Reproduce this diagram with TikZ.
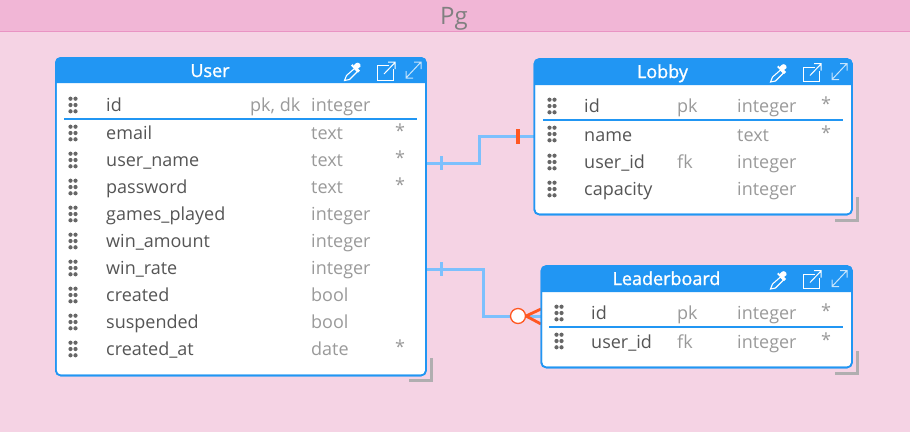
\documentclass[tikz,border=0pt]{standalone}
\usepackage{fontspec}
\setmainfont{Open Sans}
\newfontfamily\hdfont[FakeBold=1.2]{Open Sans}
\definecolor{bgpink}{HTML}{F5D3E4}
\definecolor{bandpink}{HTML}{F1B6D6}
\definecolor{bandline}{HTML}{E993C3}
\definecolor{hdblue}{HTML}{2196F3}
\definecolor{linkblue}{HTML}{7CC0FD}
\definecolor{redline}{HTML}{FF5722}
\definecolor{nametxt}{HTML}{555555}
\definecolor{typetxt}{HTML}{9A9A9A}
\definecolor{dotc}{HTML}{666666}
\definecolor{cornerc}{HTML}{B0AEB0}
\tikzset{
  x=1pt,y=-1pt,
  txt/.style={inner sep=0pt,anchor=base west,font=\fontsize{18}{18}\selectfont},
  nm/.style={txt,text=nametxt},
  ty/.style={txt,text=typetxt},
  st/.style={txt,text=typetxt,yshift=1.5pt,xshift=1pt},
  hd/.style={inner sep=0pt,anchor=base,text=white,font=\fontsize{18}{18}\selectfont\hdfont},
  tbl/.style={draw=hdblue,line width=1.6pt,fill=white,rounded corners=5pt},
  tblborder/.style={draw=hdblue,line width=1.6pt,rounded corners=5pt},
  sep/.style={draw=hdblue,line width=1.1pt},
  link/.style={draw=linkblue,line width=3pt},
  tickb/.style={draw=linkblue,line width=3pt},
  tickr/.style={draw=redline,line width=3.2pt},
  corner/.style={draw=cornerc,line width=3pt},
  icon/.style={draw=white,line width=1pt,fill=none},
}
\newcommand{\grip}[2]{%
  \foreach \gi in {0,1}\foreach \gj in {-1,0,1}
    \fill[dotc] ({#1-2.5+5*\gi},{#2+\gj*6.3}) circle[radius=2.1];}
\newcommand{\headbar}[4]{% x1, y top, x2, y bottom
  \fill[hdblue] (#1,#4) [rounded corners=5pt] -- (#1,#2) -- (#3,#2) [sharp corners] -- (#3,#4) -- cycle;}
\newcommand{\icons}[2]{% right edge, top edge of the table
  \begin{scope}[shift={(#1,#2)}]
    % dropper
    \begin{scope}[shift={(-0.5,1.5)}]
    \draw[icon,line width=1.1pt] (-81,23) -- (-79,18) -- (-71,11) -- (-68,14) -- (-76,22) -- cycle;
    \fill[white] (-72.5,8.5) -- (-70,6) .. controls (-68,4) and (-64,6) .. (-65,9) -- (-67.5,11) -- (-65.5,13) -- (-67.5,15) -- (-74.5,8) -- (-72.5,6.5) -- cycle;
    \end{scope}
    % open in window
    \draw[icon] (-37,9.5) -- (-49,9.5) -- (-49,24) -- (-33,24) -- (-33,13);
    \draw[icon] (-42,18) -- (-31,6.5) (-38,6) -- (-31,6) -- (-31,13);
    % expand
    \draw[icon,draw=white!75!hdblue] (-20,22) -- (-5,6) (-12,6) -- (-5,6) -- (-5,13) (-20,15) -- (-20,22) -- (-13,22);
  \end{scope}}
\begin{document}
\begin{tikzpicture}
\useasboundingbox (0,0) rectangle (910,432);
\fill[bgpink] (0,0) rectangle (910,432);
\fill[bandpink] (0,0) rectangle (910,31);
\draw[bandline,line width=1pt] (0,31.5) -- (910,31.5);
\node[inner sep=0pt,anchor=base,text=black!50,font=\fontsize{24}{24}\selectfont] (title) at (454,24) {Pg};

% corner marks
\draw[corner] (431,358) -- (431,380.5) -- (409,380.5);
\draw[corner] (857,197) -- (857,220) -- (835,220);
\draw[corner] (857,351) -- (857,373) -- (835,373);

% tables
\coordinate (userNW) at (55.8,57.8);
\coordinate (userSE) at (426,375.5);
\coordinate (lobbyNW) at (534.3,59);
\coordinate (lobbySE) at (852,214.5);
\coordinate (lbNW) at (541.3,266);
\coordinate (lbSE) at (852,367.5);

% connectors
\coordinate (uA) at (426,163);
\coordinate (uB) at (426,269);
\coordinate (lA) at (534,136);
\coordinate (bA) at (541,316);
\coordinate (c1) at (518,316);
\draw[link] (uA) -- (479,163) -- (479,136) -- (lA);
\draw[link] (uB) -- (483,269) -- (483,316) -- (bA);
\draw[tickb] (441,156) -- (441,170);
\draw[tickb] (441,262) -- (441,276);
\draw[tickr] (518,129) -- (518,144);
\draw[redline,line width=2.8pt] (526,316) -- (541,309) (526,316) -- (541,324);
\node[circle,draw=redline,fill=white,line width=1.3pt,minimum size=15pt,inner sep=0pt] (crow) at (c1) {};

% User
\draw[tbl] (userNW) rectangle (userSE);
\headbar{55.8}{57.8}{426}{83}
\draw[tblborder] (userNW) rectangle (userSE);
\node[hd] (userT) at (210,77) {User};
\icons{426}{56}
\draw[sep] (64,119) -- (417,119);
\foreach \yy in {105,133,160,187,214,241,268,295,322,349}{\grip{73}{\yy}}
\node[nm] (u1) at (106,111) {id};
\node[ty] (u1k) at (250,111) {pk, dk};
\node[ty] (u1t) at (311,111) {integer};
\node[nm] (u2) at (106,139) {email};
\node[ty] (u2t) at (311,139) {text};
\node[st] (u2s) at (394,139) {*};
\node[nm] (u3) at (106,166) {user\_name};
\node[ty] (u3t) at (311,166) {text};
\node[st] (u3s) at (394,166) {*};
\node[nm] (u4) at (106,193) {password};
\node[ty] (u4t) at (311,193) {text};
\node[st] (u4s) at (394,193) {*};
\node[nm] (u5) at (106,220) {games\_played};
\node[ty] (u5t) at (311,220) {integer};
\node[nm] (u6) at (106,247) {win\_amount};
\node[ty] (u6t) at (311,247) {integer};
\node[nm] (u7) at (106,274) {win\_rate};
\node[ty] (u7t) at (311,274) {integer};
\node[nm] (u8) at (106,301) {created};
\node[ty] (u8t) at (311,301) {bool};
\node[nm] (u9) at (106,328) {suspended};
\node[ty] (u9t) at (311,328) {bool};
\node[nm] (u10) at (106,355) {created\_at};
\node[ty] (u10t) at (311,355) {date};
\node[st] (u10s) at (394,355) {*};

% Lobby
\draw[tbl] (lobbyNW) rectangle (lobbySE);
\headbar{534.3}{59}{852}{85}
\draw[tblborder] (lobbyNW) rectangle (lobbySE);
\node[hd] (lobbyT) at (662.5,78) {Lobby};
\icons{852}{57.5}
\draw[sep] (543,120) -- (843,120);
\foreach \yy in {106,134,162,189}{\grip{552}{\yy}}
\node[nm] (l1) at (584,112) {id};
\node[ty] (l1k) at (677,112) {pk};
\node[ty] (l1t) at (737,112) {integer};
\node[st] (l1s) at (820,112) {*};
\node[nm] (l2) at (584,141) {name};
\node[ty] (l2t) at (737,141) {text};
\node[st] (l2s) at (820,141) {*};
\node[nm] (l3) at (584,168) {user\_id};
\node[ty] (l3k) at (677,168) {fk};
\node[ty] (l3t) at (737,168) {integer};
\node[nm] (l4) at (584,195) {capacity};
\node[ty] (l4t) at (737,195) {integer};

% Leaderboard
\draw[tbl] (lbNW) rectangle (lbSE);
\headbar{541.3}{266}{852}{292}
\draw[tblborder] (lbNW) rectangle (lbSE);
\node[hd] (lbT) at (666.5,285) {Leaderboard};
\icons{852}{264.5}
\draw[sep] (549,327) -- (843,327);
\foreach \yy in {313,341}{\grip{559}{\yy}}
\node[nm] (b1) at (591,319) {id};
\node[ty] (b1k) at (677,319) {pk};
\node[ty] (b1t) at (737,319) {integer};
\node[st] (b1s) at (820,319) {*};
\node[nm] (b2) at (591,348) {user\_id};
\node[ty] (b2k) at (677,348) {fk};
\node[ty] (b2t) at (737,348) {integer};
\node[st] (b2s) at (820,348) {*};
\end{tikzpicture}
\end{document}
